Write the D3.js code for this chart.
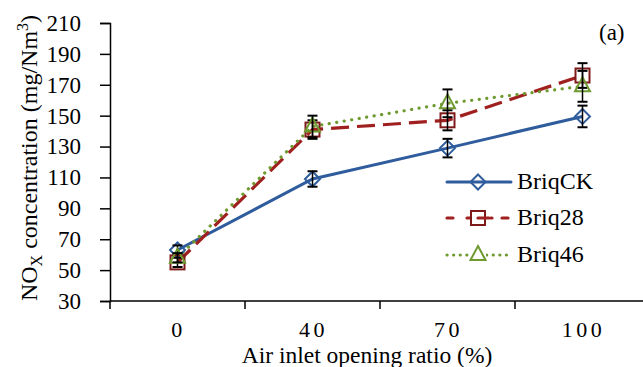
<!DOCTYPE html>
<html>
<head>
<meta charset="utf-8">
<script src="https://cdn.jsdelivr.net/npm/d3@7"></script>
<style>
  html, body { margin: 0; padding: 0; background: #fff; }
</style>
</head>
<body>
<svg id="chart" width="643" height="367"></svg>
<script>
// Air inlet opening ratio categories (%)
const categories = ["0", "40", "70", "100"];
const yTicks = [30, 50, 70, 90, 110, 130, 150, 170, 190, 210];

// NOx concentration (mg/Nm3) and error bars per briquette type
const briqCK = [63, 109, 129, 149.5];
const briqCKErr = [3, 5, 6, 7];
const briq28 = [55, 141, 147, 176];
const briq28Err = [3, 6, 6.5, 8];
const briq46 = [58, 143, 158, 169];
const briq46Err = [3, 7, 9, 10];

const seriesNames = ["BriqCK", "Briq28", "Briq46"];

const FONT = "'Liberation Serif'";
const svg = d3.select("#chart");

const x = d3.scaleBand().domain(categories).range([110, 650]).padding(0);
const y = d3.scaleLinear().domain([30, 210]).range([301, 23]);
const cx = d => x(d) + x.bandwidth() / 2;

// Y axis
const yAxis = svg.append("g")
  .attr("transform", "translate(110,0)")
  .call(d3.axisLeft(y).tickValues(yTicks).tickSize(10).tickPadding(19).tickFormat(d3.format("d")));
yAxis.select(".domain").attr("stroke", "#000").attr("stroke-width", 1.5);
yAxis.selectAll(".tick line").attr("stroke", "#000").attr("stroke-width", 1.5);
yAxis.selectAll(".tick text")
  .style("font-family", FONT).style("font-size", "23px").attr("fill", "#000");

// X axis: ticks sit on category boundaries, labels centred in bands
const xAxisG = svg.append("g");
xAxisG.append("line")
  .attr("x1", x.range()[0]).attr("x2", x.range()[1])
  .attr("y1", y(30)).attr("y2", y(30))
  .attr("stroke", "#000").attr("stroke-width", 1.5);
const boundaries = categories.map(c => x(c)).concat([x.range()[1]]);
xAxisG.selectAll("line.tk").data(boundaries).enter().append("line")
  .attr("class", "tk")
  .attr("x1", d => d).attr("x2", d => d)
  .attr("y1", y(30)).attr("y2", y(30) + 8)
  .attr("stroke", "#000").attr("stroke-width", 1.5);
xAxisG.selectAll("text").data(categories).enter().append("text")
  .attr("x", d => cx(d) + 1)
  .attr("y", 337)
  .attr("text-anchor", "middle")
  .style("font-family", FONT).style("font-size", "22px")
  .style("letter-spacing", "3.5px")
  .text(d => d);

// Axis titles
svg.append("text")
  .attr("x", 367).attr("y", 363)
  .attr("text-anchor", "middle")
  .style("font-family", FONT).style("font-size", "23.5px")
  .text("Air inlet opening ratio (%)");

const yTitle = svg.append("text")
  .attr("transform", "translate(37,158) rotate(-90)")
  .attr("text-anchor", "middle")
  .style("font-family", FONT).style("font-size", "24px");
yTitle.append("tspan").text("NO");
yTitle.append("tspan").style("font-size", "16px").attr("dy", 5).text("X");
yTitle.append("tspan").attr("dy", -5).text(" concentration (mg/Nm");
yTitle.append("tspan").style("font-size", "16px").attr("dy", -9).text("3");
yTitle.append("tspan").attr("dy", 9).text(")");

// Panel label
svg.append("text")
  .attr("x", 599).attr("y", 40)
  .style("font-family", FONT).style("font-size", "23px")
  .text("(a)");

const styles = [
  { name: seriesNames[0], values: briqCK, err: briqCKErr, color: "#2F5C9C", lineColor: "#2F5C9C", dash: null, cap: "butt", width: 3, marker: "diamond" },
  { name: seriesNames[1], values: briq28, err: briq28Err, color: "#7F1A1A", lineColor: "#A02020", dash: "18,8", cap: "butt", width: 3.2, marker: "square" },
  { name: seriesNames[2], values: briq46, err: briq46Err, color: "#6E9A30", lineColor: "#6E9A30", dash: "0.1,7.5", cap: "round", width: 3.2, marker: "triangle" }
];

const line = d3.line().x((d, i) => cx(categories[i])).y(d => y(d));

function drawMarker(g, type, color) {
  if (type === "diamond") {
    g.append("path").attr("d", "M0,-7.5 L7.5,0 L0,7.5 L-7.5,0 Z")
      .attr("fill", "none").attr("stroke", color).attr("stroke-width", 2);
  } else if (type === "square") {
    g.append("rect").attr("x", -7).attr("y", -7).attr("width", 14).attr("height", 14)
      .attr("fill", "none").attr("stroke", color).attr("stroke-width", 2);
  } else {
    g.append("path").attr("d", "M0,-9 L7.5,5 L-7.5,5 Z")
      .attr("fill", "none").attr("stroke", color).attr("stroke-width", 2);
  }
}

styles.forEach(s => {
  svg.append("path")
    .datum(s.values)
    .attr("d", line)
    .attr("fill", "none")
    .attr("stroke", s.lineColor)
    .attr("stroke-width", s.width)
    .attr("stroke-linecap", s.cap)
    .attr("stroke-dasharray", s.dash);
});

styles.forEach(s => {
  s.values.forEach((v, i) => {
    const px = cx(categories[i]);
    const g = svg.append("g").attr("transform", `translate(${px},${y(v)})`);
    drawMarker(g, s.marker, s.color);
    // error bar
    const top = y(v + s.err[i]) - y(v), bot = y(v - s.err[i]) - y(v);
    g.append("line").attr("x1", 0).attr("x2", 0).attr("y1", top).attr("y2", bot)
      .attr("stroke", "#000").attr("stroke-width", 1.5);
    [top, bot].forEach(t => g.append("line")
      .attr("x1", -5).attr("x2", 5).attr("y1", t).attr("y2", t)
      .attr("stroke", "#000").attr("stroke-width", 2));
  });
});

// Legend
const legend = svg.append("g");
const legendY = [182, 218, 255];
styles.forEach((s, i) => {
  const g = legend.append("g").attr("transform", `translate(0,${legendY[i]})`);
  g.append("line").attr("x1", 447).attr("x2", 511).attr("y1", 0).attr("y2", 0)
    .attr("stroke", s.lineColor).attr("stroke-width", s.width)
    .attr("stroke-linecap", "round")
    .attr("stroke-dasharray", s.dash === null ? null : (s.marker === "square" ? "6,14,10,14,1,10" : "0.1,6.5"));
  const m = g.append("g").attr("transform", "translate(478,0)");
  if (s.marker !== "diamond") {
    m.append("rect").attr("x", -8).attr("y", -9).attr("width", 16).attr("height", 16).attr("fill", "#fff");
  }
  drawMarker(m, s.marker, s.color);
  if (s.marker === "square") {
    m.append("line").attr("x1", 0).attr("x2", 11).attr("y1", 0).attr("y2", 0)
      .attr("stroke", s.lineColor).attr("stroke-width", s.width).attr("stroke-linecap", "round");
  }
  g.append("text").attr("x", 517).attr("y", 7)
    .style("font-family", FONT).style("font-size", "24px").text(s.name);
});
</script>
</body>
</html>
